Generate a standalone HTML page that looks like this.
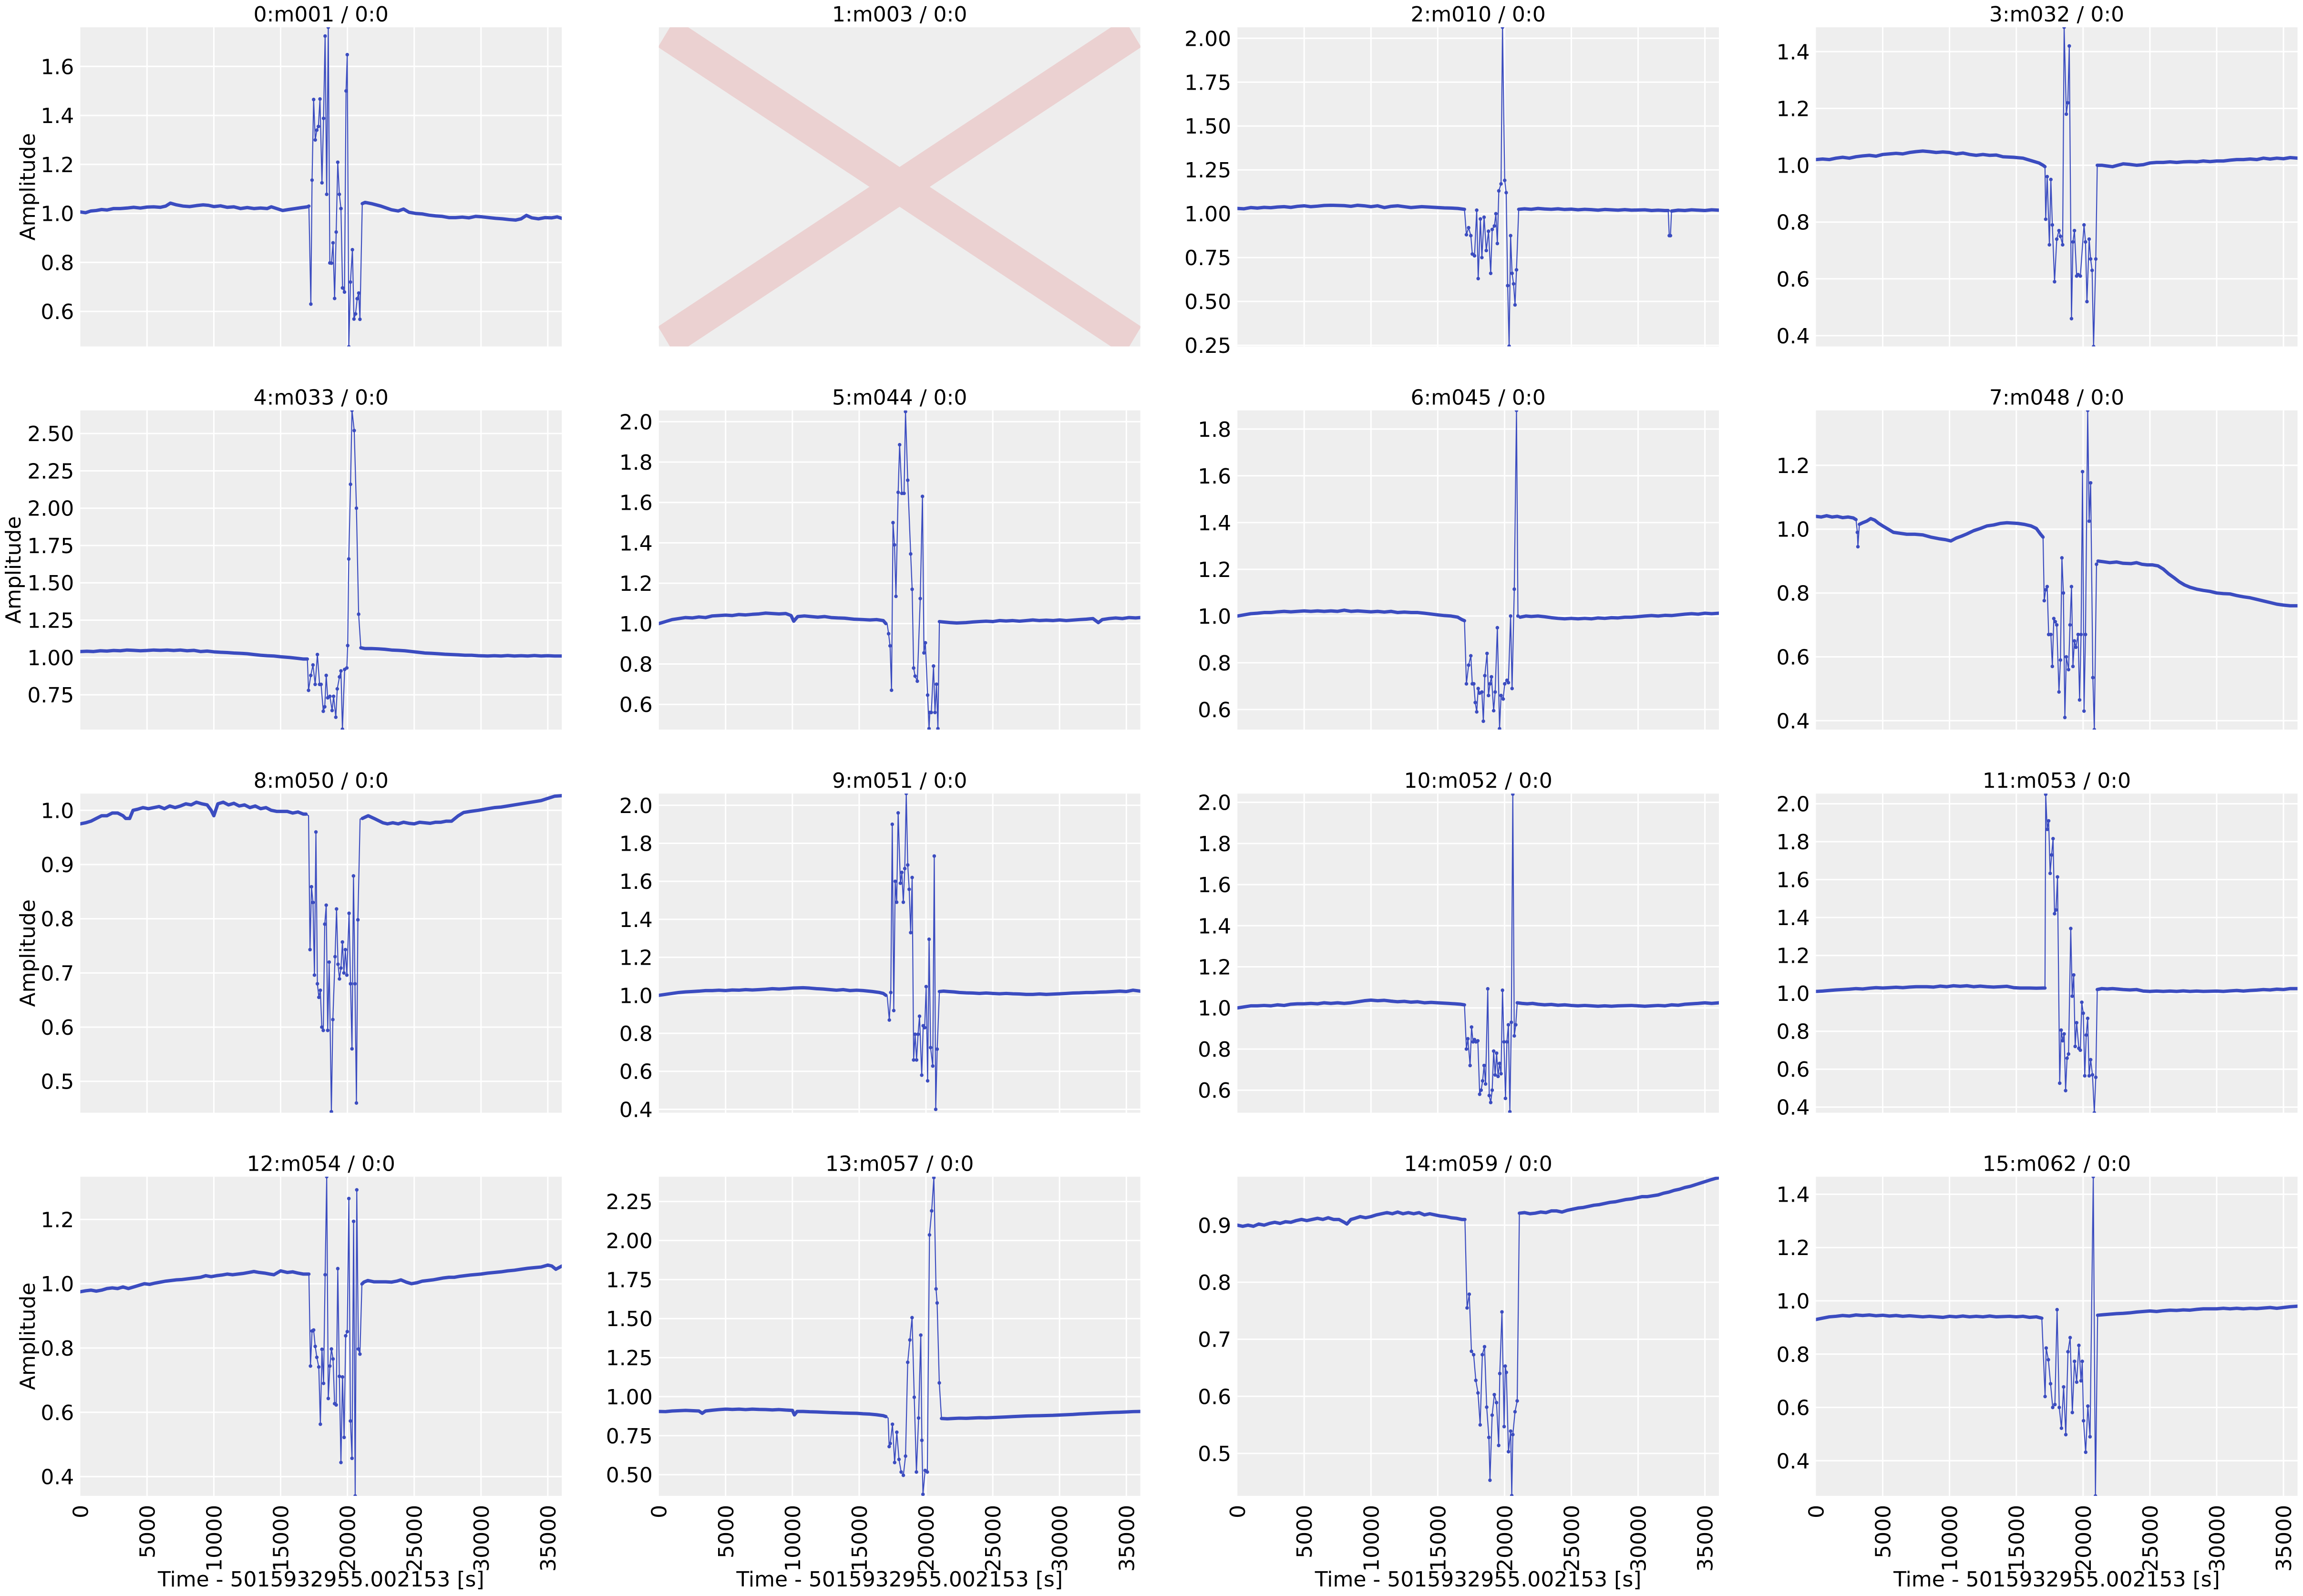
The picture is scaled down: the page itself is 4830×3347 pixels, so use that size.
<!DOCTYPE html>
<html><head><meta charset="utf-8">
<style>
html,body{margin:0;padding:0;background:#fff;}
svg{display:block}
text{font-family:"DejaVu Sans","Liberation Sans",sans-serif;font-size:44px;fill:#000}
.t{text-anchor:middle}
.y text{text-anchor:end}
.xt text{text-anchor:end}
.bg{fill:#eeeeee}
.g{stroke:#fff;stroke-width:3;fill:none}
.b{fill:none;stroke:#3b4cc0;stroke-width:7;stroke-linejoin:round;stroke-linecap:round}
.l{fill:none;stroke:#3b4cc0;stroke-width:2.2;stroke-linejoin:round}
.d{fill:none;stroke:#3b4cc0;stroke-width:7.5;stroke-linecap:round}
</style></head><body>
<svg width="4830" height="3347" viewBox="0 0 4830 3347" xmlns="http://www.w3.org/2000/svg">
<defs>
<path id="vg" d="M140.08 0V669.5M280.16 0V669.5M420.24 0V669.5M560.32 0V669.5M700.4 0V669.5M840.48 0V669.5M980.56 0V669.5"/>
</defs>
<rect width="4830" height="3347" fill="#fff"/>

<!-- Panel 0 -->
<g transform="translate(168.3,57.1)">
<text class="t" x="505" y="-12">0:m001 / 0:0</text>
<text class="t" transform="translate(-95.3,334.75) rotate(-90)">Amplitude</text>
<g class="y"><text x="-13" y="98.2">1.6</text><text x="-13" y="201">1.4</text><text x="-13" y="303.7">1.2</text><text x="-13" y="406.5">1.0</text><text x="-13" y="509.2">0.8</text><text x="-13" y="612">0.6</text></g>
<svg width="1010" height="669.5"><rect class="bg" width="1010" height="669.5"/><use href="#vg" class="g"/>
<path class="g" d="M0 82.2H1010M0 185H1010M0 287.7H1010M0 390.5H1010M0 493.2H1010M0 596H1010"/>
<svg width="1010" height="669.5" viewBox="0 -1.760 36050 1.303" preserveAspectRatio="none"><g transform="scale(1,-1)">
<path class="b" vector-effect="non-scaling-stroke" d="M0 1.006L400 1.003 800 1.01 1200 1.012 1600 1.016 2000 1.014 2500 1.02 3000 1.02 3500 1.022 4000 1.025 4500 1.022 5000 1.026 5500 1.027 6000 1.025 6400 1.03 6750 1.042 7200 1.035 7700 1.03 8200 1.028 8700 1.032 9200 1.035 9600 1.033 10000 1.028 10500 1.031 11000 1.025 11500 1.027 12000 1.02 12500 1.024 13000 1.02 13500 1.022 14000 1.02 14300 1.027 15150 1.012 15600 1.016 16100 1.02 16600 1.024 17000 1.027 17116 1.03"/>
<path class="b" vector-effect="non-scaling-stroke" d="M21112 1.04L21319 1.045 21800 1.04 22500 1.03 23300 1.015 23800 1.01 24200 1.018 24600 1.005 25100 1 25600 0.998 26100 0.993 26600 0.99 27100 0.988 27600 0.983 28100 0.983 28600 0.985 29100 0.982 29600 0.988 30100 0.986 30600 0.983 31100 0.98 31600 0.978 32100 0.975 32600 0.973 33000 0.978 33400 0.992 33800 0.982 34300 0.978 34800 0.983 35300 0.982 35700 0.986 36050 0.98"/>
<path class="l" vector-effect="non-scaling-stroke" d="M17116 1.03L17263 0.63 17353 1.136 17471 1.465 17591 1.3 17709 1.34 17827 1.355 17945 1.467 18094 1.125 18213 1.388 18330 1.724 18448 1.078 18566 1.76 18684 0.798 18805 0.797 18923 0.88 19041 0.653 19159 0.924 19277 1.209 19395 1.078 19516 1.02 19634 0.696 19780 0.679 19898 1.5 19987 1.648 20105 0.456 20227 0.72 20373 0.852 20491 0.569 20609 0.59 20730 0.652 20848 0.675 20937 0.568 21112 1.04"/>
<path class="d" vector-effect="non-scaling-stroke" d="M17263 .63h0M17353 1.136h0M17471 1.465h0M17591 1.3h0M17709 1.34h0M17827 1.355h0M17945 1.467h0M18094 1.125h0M18213 1.388h0M18330 1.724h0M18448 1.078h0M18566 1.76h0M18684 .798h0M18805 .797h0M18923 .88h0M19041 .653h0M19159 .924h0M19277 1.209h0M19395 1.078h0M19516 1.02h0M19634 .696h0M19780 .679h0M19898 1.5h0M19987 1.648h0M20105 .456h0M20227 .72h0M20373 .852h0M20491 .569h0M20609 .59h0M20730 .652h0M20848 .675h0M20937 .568h0"/>
</g></svg></svg>
</g>

<!-- Panel 1 -->
<g transform="translate(1381.7,57.1)">
<text class="t" x="505" y="-12">1:m003 / 0:0</text>
<svg width="1010" height="669.5"><rect class="bg" width="1010" height="669.5"/>
<polygon fill="#ebd1d1" points="-1.7,41.7 23.3,0 61.6,0 1011.7,627.8 986.7,669.5 948.4,669.5"/>
<polygon fill="#ebd1d1" points="1011.7,41.7 986.7,0 948.4,0 -1.7,627.8 23.3,669.5 61.6,669.5"/>
</svg>
</g>

<!-- Panel 2 -->
<g transform="translate(2595.1,57.1)">
<text class="t" x="505" y="-12">2:m010 / 0:0</text>
<g class="y"><text x="-13" y="39.2">2.00</text><text x="-13" y="131.2">1.75</text><text x="-13" y="223.1">1.50</text><text x="-13" y="315.1">1.25</text><text x="-13" y="407.1">1.00</text><text x="-13" y="499">0.75</text><text x="-13" y="591">0.50</text><text x="-13" y="683">0.25</text></g>
<svg width="1010" height="669.5"><rect class="bg" width="1010" height="669.5"/><use href="#vg" class="g"/>
<path class="g" d="M0 23.2H1010M0 115.2H1010M0 207.1H1010M0 299.1H1010M0 391.1H1010M0 483H1010M0 575H1010M0 667H1010"/>
<svg width="1010" height="669.5" viewBox="0 -2.063 36050 1.82" preserveAspectRatio="none"><g transform="scale(1,-1)">
<path class="b" vector-effect="non-scaling-stroke" d="M0 1.03L500 1.028 1000 1.035 1500 1.032 2000 1.036 2500 1.034 3000 1.038 3500 1.04 4000 1.036 4500 1.042 5000 1.045 5500 1.04 6000 1.043 6500 1.047 7000 1.048 8000 1.046 8500 1.042 9000 1.048 9500 1.045 10000 1.04 10500 1.045 11000 1.035 11500 1.042 12000 1.045 12500 1.04 13000 1.035 13800 1.04 14300 1.038 15000 1.035 15500 1.033 16000 1.032 16500 1.03 17000 1.025"/>
<path class="b" vector-effect="non-scaling-stroke" d="M21059 1.025L21500 1.028 22000 1.025 22500 1.03 23000 1.027 23500 1.025 24000 1.028 24500 1.024 25000 1.026 25500 1.022 26000 1.025 26500 1.023 27000 1.02 27500 1.024 28000 1.022 28500 1.02 29000 1.023 29500 1.02 30500 1.022 31000 1.018 31500 1.02 32000 1.018 32250 1.018"/>
<path class="b" vector-effect="non-scaling-stroke" d="M32500 1.015L33000 1.02 33500 1.018 34000 1.022 34500 1.02 35000 1.018 35500 1.022 36050 1.02"/>
<path class="l" vector-effect="non-scaling-stroke" d="M17000 1.025L17145 0.88 17311 0.92 17476 0.875 17586 0.77 17752 0.76 17917 1.02 18027 0.63 18193 0.97 18303 0.75 18468 0.98 18634 0.79 18799 0.9 18964 0.66 19075 0.91 19240 0.93 19351 1 19461 0.83 19571 1.13 19737 1.17 19847 2.063 20012 1.19 20122 1.12 20233 0.59 20343 0.245 20453 0.875 20563 0.66 20674 0.6 20784 0.48 20894 0.68 21059 1.025M32250 1.018L32330 0.875 32420 0.875 32500 1.015"/>
<path class="d" vector-effect="non-scaling-stroke" d="M17145 .88h0M17311 .92h0M17476 .875h0M17586 .77h0M17752 .76h0M17917 1.02h0M18027 .63h0M18193 .97h0M18303 .75h0M18468 .98h0M18634 .79h0M18799 .9h0M18964 .66h0M19075 .91h0M19240 .93h0M19351 1h0M19461 .83h0M19571 1.13h0M19737 1.17h0M19847 2.063h0M20012 1.19h0M20122 1.12h0M20233 .59h0M20343 .245h0M20453 .875h0M20563 .66h0M20674 .6h0M20784 .48h0M20894 .68h0M32330 .875h0M32420 .875h0"/>
</g></svg></svg>
</g>

<!-- Panel 3 -->
<g transform="translate(3808.5,57.1)">
<text class="t" x="505" y="-12">3:m032 / 0:0</text>
<g class="y"><text x="-13" y="67.2">1.4</text><text x="-13" y="186.3">1.2</text><text x="-13" y="305.5">1.0</text><text x="-13" y="424.6">0.8</text><text x="-13" y="543.7">0.6</text><text x="-13" y="662.8">0.4</text></g>
<svg width="1010" height="669.5"><rect class="bg" width="1010" height="669.5"/><use href="#vg" class="g"/>
<path class="g" d="M0 51.2H1010M0 170.3H1010M0 289.5H1010M0 408.6H1010M0 527.7H1010M0 646.8H1010"/>
<svg width="1010" height="669.5" viewBox="0 -1.486 36050 1.124" preserveAspectRatio="none"><g transform="scale(1,-1)">
<path class="b" vector-effect="non-scaling-stroke" d="M0 1.02L500 1.022 1000 1.02 1500 1.025 2000 1.028 2500 1.025 3000 1.03 3500 1.033 4000 1.035 4500 1.032 5000 1.038 5500 1.04 6000 1.042 6500 1.04 7000 1.045 7500 1.048 8000 1.05 8500 1.048 9000 1.045 9500 1.047 10000 1.045 10500 1.04 11000 1.043 11500 1.038 12000 1.035 12500 1.038 13000 1.035 13500 1.036 14000 1.03 14800 1.028 15500 1.025 16200 1.015 16700 1.008 17000 1 17145 0.995"/>
<path class="b" vector-effect="non-scaling-stroke" d="M21059 1L21400 1 21700 0.998 22200 0.995 23000 1.005 23500 1.003 24000 1 24500 1.002 25000 1.008 25500 1.01 26000 1.01 26500 1.012 27000 1.01 27500 1.012 28000 1.013 28500 1.012 29000 1.015 29500 1.013 30000 1.015 30500 1.015 31000 1.018 31500 1.02 32000 1.02 32500 1.022 33000 1.02 33500 1.025 34000 1.022 34500 1.025 35000 1.023 35500 1.027 36050 1.025"/>
<path class="l" vector-effect="non-scaling-stroke" d="M17145 0.995L17200 0.81 17310 0.96 17476 0.72 17586 0.95 17696 0.79 17862 0.59 18027 0.74 18193 0.77 18303 0.75 18468 0.72 18579 1.486 18744 1.18 18854 1.22 18965 1.42 19130 0.46 19240 0.73 19351 0.77 19516 0.61 19626 0.615 19792 0.61 20068 0.79 20178 0.73 20288 0.52 20453 0.74 20564 0.67 20674 0.63 20784 0.362 20949 0.67 21059 1"/>
<path class="d" vector-effect="non-scaling-stroke" d="M17200 .81h0M17310 .96h0M17476 .72h0M17586 .95h0M17696 .79h0M17862 .59h0M18027 .74h0M18193 .77h0M18303 .75h0M18468 .72h0M18579 1.486h0M18744 1.18h0M18854 1.22h0M18965 1.42h0M19130 .46h0M19240 .73h0M19351 .77h0M19516 .61h0M19626 .615h0M19792 .61h0M20068 .79h0M20178 .73h0M20288 .52h0M20453 .74h0M20564 .67h0M20674 .63h0M20784 .362h0M20949 .67h0"/>
</g></svg></svg>
</g>

<!-- Panel 4 -->
<g transform="translate(168.3,860.6)">
<text class="t" x="505" y="-12">4:m033 / 0:0</text>
<text class="t" transform="translate(-125.3,334.75) rotate(-90)">Amplitude</text>
<g class="y"><text x="-13" y="64.5">2.50</text><text x="-13" y="142.8">2.25</text><text x="-13" y="221.1">2.00</text><text x="-13" y="299.4">1.75</text><text x="-13" y="377.6">1.50</text><text x="-13" y="455.9">1.25</text><text x="-13" y="534.2">1.00</text><text x="-13" y="612.5">0.75</text></g>
<svg width="1010" height="669.5"><rect class="bg" width="1010" height="669.5"/><use href="#vg" class="g"/>
<path class="g" d="M0 48.5H1010M0 126.8H1010M0 205.1H1010M0 283.4H1010M0 361.6H1010M0 439.9H1010M0 518.2H1010M0 596.5H1010"/>
<svg width="1010" height="669.5" viewBox="0 -2.655 36050 2.138" preserveAspectRatio="none"><g transform="scale(1,-1)">
<path class="b" vector-effect="non-scaling-stroke" d="M0 1.04L500 1.042 1000 1.04 1500 1.045 2000 1.043 2500 1.047 3000 1.045 3500 1.05 4000 1.048 4500 1.045 5000 1.047 5500 1.05 6000 1.048 6500 1.05 7000 1.047 7500 1.05 8000 1.045 8500 1.048 9000 1.04 9500 1.043 10000 1.038 10500 1.035 11000 1.033 11500 1.03 12000 1.028 12500 1.025 13000 1.02 13500 1.015 14000 1.012 14500 1.01 15000 1.005 15700 1 16200 0.995 16700 0.99 17000 0.99"/>
<path class="b" vector-effect="non-scaling-stroke" d="M21004 1.065L21300 1.06 21800 1.06 22300 1.058 22800 1.055 23300 1.05 23800 1.048 24300 1.045 24800 1.04 25300 1.035 25800 1.03 26300 1.028 26800 1.025 27300 1.022 27800 1.02 28300 1.018 28800 1.015 29300 1.015 29800 1.012 30500 1.01 31000 1.012 31500 1.01 32000 1.013 32500 1.01 33000 1.012 33500 1.01 34000 1.013 34500 1.01 35000 1.012 35500 1.01 36050 1.01"/>
<path class="l" vector-effect="non-scaling-stroke" d="M17000 0.99L17090 0.78 17256 0.88 17421 0.95 17586 0.82 17752 1.02 17917 0.82 18027 0.82 18193 0.64 18303 0.67 18413 0.88 18524 0.73 18689 0.74 18854 0.645 18965 0.74 19130 0.6 19240 0.79 19406 0.87 19516 0.91 19626 0.52 19792 0.92 19957 0.93 20020 1.08 20100 1.66 20233 2.16 20343 2.655 20508 2.52 20674 2 20839 1.29 21004 1.065"/>
<path class="d" vector-effect="non-scaling-stroke" d="M17090 .78h0M17256 .88h0M17421 .95h0M17586 .82h0M17752 1.02h0M17917 .82h0M18027 .82h0M18193 .64h0M18303 .67h0M18413 .88h0M18524 .73h0M18689 .74h0M18854 .645h0M18965 .74h0M19130 .6h0M19240 .79h0M19406 .87h0M19516 .91h0M19626 .52h0M19792 .92h0M19957 .93h0M20020 1.08h0M20100 1.66h0M20233 2.16h0M20343 2.655h0M20508 2.52h0M20674 2h0M20839 1.29h0"/>
</g></svg></svg>
</g>

<!-- Panel 5 -->
<g transform="translate(1381.7,860.6)">
<text class="t" x="505" y="-12">5:m044 / 0:0</text>
<g class="y"><text x="-13" y="39.7">2.0</text><text x="-13" y="124.4">1.8</text><text x="-13" y="209.1">1.6</text><text x="-13" y="293.8">1.4</text><text x="-13" y="378.5">1.2</text><text x="-13" y="463.2">1.0</text><text x="-13" y="547.9">0.8</text><text x="-13" y="632.6">0.6</text></g>
<svg width="1010" height="669.5"><rect class="bg" width="1010" height="669.5"/><use href="#vg" class="g"/>
<path class="g" d="M0 23.7H1010M0 108.4H1010M0 193.1H1010M0 277.8H1010M0 362.5H1010M0 447.2H1010M0 531.9H1010M0 616.6H1010"/>
<svg width="1010" height="669.5" viewBox="0 -2.056 36050 1.581" preserveAspectRatio="none"><g transform="scale(1,-1)">
<path class="b" vector-effect="non-scaling-stroke" d="M0 1L500 1.01 1000 1.02 1500 1.025 2000 1.03 2500 1.028 3000 1.033 3500 1.03 4000 1.038 4500 1.04 5000 1.042 5500 1.04 6000 1.045 6500 1.043 7000 1.046 7500 1.048 8000 1.052 8500 1.05 9000 1.048 9500 1.05 9900 1.04 10100 1.012 10400 1.035 10900 1.038 11400 1.035 11900 1.032 12400 1.035 12900 1.03 13400 1.028 13900 1.027 14600 1.022 15300 1.02 15800 1.018 16300 1.02 16800 1.015 17000 1"/>
<path class="b" vector-effect="non-scaling-stroke" d="M21004 1.01L21300 1.008 21800 1.005 22300 1.003 23000 1.005 23500 1.008 24000 1.01 24500 1.012 25000 1.01 25500 1.015 26000 1.013 26500 1.015 27000 1.012 27500 1.015 28000 1.018 28500 1.015 29000 1.017 29500 1.015 30000 1.018 30500 1.015 31500 1.02 32000 1.022 32500 1.025 32900 1.005 33200 1.02 33700 1.025 34200 1.028 34700 1.025 35200 1.03 35700 1.028 36050 1.03"/>
<path class="l" vector-effect="non-scaling-stroke" d="M17000 1L17090 1 17201 0.95 17311 0.89 17421 0.67 17532 1.5 17642 1.39 17752 1.135 17917 1.65 18027 1.886 18193 1.645 18358 1.645 18468 2.05 18634 1.71 18854 1.345 18965 1.17 19075 0.78 19185 0.74 19351 0.715 19571 1.124 19736 1.63 19847 0.855 19957 0.905 20122 0.646 20230 0.48 20288 0.56 20398 0.56 20564 0.79 20674 0.56 20784 0.7 20894 0.48 21004 1.01"/>
<path class="d" vector-effect="non-scaling-stroke" d="M17201 .95h0M17311 .89h0M17421 .67h0M17532 1.5h0M17642 1.39h0M17752 1.135h0M17917 1.65h0M18027 1.886h0M18193 1.645h0M18358 1.645h0M18468 2.05h0M18634 1.71h0M18854 1.345h0M18965 1.17h0M19075 .78h0M19185 .74h0M19351 .715h0M19571 1.124h0M19736 1.63h0M19847 .855h0M19957 .905h0M20122 .646h0M20230 .48h0M20288 .56h0M20398 .56h0M20564 .79h0M20674 .56h0M20784 .7h0M20894 .48h0"/>
</g></svg></svg>
</g>

<!-- Panel 6 -->
<g transform="translate(2595.1,860.6)">
<text class="t" x="505" y="-12">6:m045 / 0:0</text>
<g class="y"><text x="-13" y="55.2">1.8</text><text x="-13" y="153.2">1.6</text><text x="-13" y="251.3">1.4</text><text x="-13" y="349.3">1.2</text><text x="-13" y="447.3">1.0</text><text x="-13" y="545.3">0.8</text><text x="-13" y="643.3">0.6</text></g>
<svg width="1010" height="669.5"><rect class="bg" width="1010" height="669.5"/><use href="#vg" class="g"/>
<path class="g" d="M0 39.2H1010M0 137.2H1010M0 235.3H1010M0 333.3H1010M0 431.3H1010M0 529.3H1010M0 627.3H1010"/>
<svg width="1010" height="669.5" viewBox="0 -1.880 36050 1.366" preserveAspectRatio="none"><g transform="scale(1,-1)">
<path class="b" vector-effect="non-scaling-stroke" d="M0 1L500 1.005 1000 1.01 1500 1.012 2000 1.015 2500 1.015 3000 1.018 3500 1.02 4000 1.018 4500 1.02 5000 1.022 5500 1.02 6000 1.022 6500 1.02 7000 1.022 7500 1.02 8000 1.025 8500 1.02 9000 1.022 9500 1.02 10000 1.018 10500 1.02 11000 1.017 11500 1.02 12000 1.015 12500 1.017 13000 1.015 13500 1.015 14000 1.012 15000 1.005 15500 1.002 16000 1 16500 0.995 16800 0.985 17000 0.98"/>
<path class="b" vector-effect="non-scaling-stroke" d="M21170 0.995L21600 1 22000 0.998 22500 1 23000 0.997 23500 0.993 24000 0.99 24500 0.988 25000 0.99 25500 0.988 26000 0.99 26500 0.988 27000 0.992 27500 0.99 28000 0.993 28500 0.992 29000 0.995 29500 0.995 30500 1 31000 1.002 31500 1 32000 1.003 32500 1.002 33000 1.005 33500 1.008 34000 1.01 34500 1.008 35000 1.012 35500 1.01 36050 1.012"/>
<path class="l" vector-effect="non-scaling-stroke" d="M17000 0.98L17145 0.71 17311 0.79 17476 0.83 17586 0.71 17697 0.71 17807 0.63 17917 0.59 18028 0.69 18138 0.67 18303 0.675 18413 0.55 18524 0.745 18689 0.84 18799 0.66 18909 0.71 19020 0.74 19185 0.595 19296 0.675 19461 0.95 19626 0.518 19737 0.66 19902 0.645 20012 0.71 20178 0.725 20288 0.715 20453 1 20564 0.69 20729 1.115 20894 1.88 21004 1 21170 0.995"/>
<path class="d" vector-effect="non-scaling-stroke" d="M17145 .71h0M17311 .79h0M17476 .83h0M17586 .71h0M17697 .71h0M17807 .63h0M17917 .59h0M18028 .69h0M18138 .67h0M18303 .675h0M18413 .55h0M18524 .745h0M18689 .84h0M18799 .66h0M18909 .71h0M19020 .74h0M19185 .595h0M19296 .675h0M19461 .95h0M19626 .518h0M19737 .66h0M19902 .645h0M20012 .71h0M20178 .725h0M20288 .715h0M20453 1h0M20564 .69h0M20729 1.115h0M20894 1.88h0M21004 1h0"/>
</g></svg></svg>
</g>

<!-- Panel 7 -->
<g transform="translate(3808.5,860.6)">
<text class="t" x="505" y="-12">7:m048 / 0:0</text>
<g class="y"><text x="-13" y="131.2">1.2</text><text x="-13" y="265.1">1.0</text><text x="-13" y="399">0.8</text><text x="-13" y="532.9">0.6</text><text x="-13" y="666.8">0.4</text></g>
<svg width="1010" height="669.5"><rect class="bg" width="1010" height="669.5"/><use href="#vg" class="g"/>
<path class="g" d="M0 115.2H1010M0 249.1H1010M0 383H1010M0 516.9H1010M0 650.8H1010"/>
<svg width="1010" height="669.5" viewBox="0 -1.372 36050 1.0" preserveAspectRatio="none"><g transform="scale(1,-1)">
<path class="b" vector-effect="non-scaling-stroke" d="M0 1.04L400 1.038 800 1.042 1200 1.038 1600 1.04 2000 1.036 2400 1.038 2800 1.035 3000 1.03"/>
<path class="b" vector-effect="non-scaling-stroke" d="M3250 1.015L3500 1.02 3800 1.025 4100 1.033 4400 1.028 4700 1.018 5000 1.01 5400 1 5800 0.99 6300 0.987 6800 0.984 7400 0.984 8000 0.982 8600 0.975 9200 0.97 9700 0.967 10100 0.963 10500 0.972 10900 0.978 11300 0.985 11800 0.995 12300 1.002 12800 1.01 13300 1.013 13800 1.018 14300 1.02 15100 1.018 15600 1.015 16100 1.01 16500 1.002 16800 0.985 17000 0.975"/>
<path class="b" vector-effect="non-scaling-stroke" d="M21114 0.9L21500 0.898 22000 0.895 22500 0.897 23000 0.893 23600 0.892 24000 0.895 24400 0.89 24800 0.888 25200 0.888 25600 0.885 26000 0.875 26400 0.86 26800 0.848 27200 0.835 27600 0.825 28000 0.818 28500 0.812 29000 0.808 29500 0.805 30000 0.8 30500 0.798 31000 0.797 31500 0.792 32000 0.788 32500 0.785 33000 0.78 33500 0.775 34000 0.77 34500 0.765 35000 0.762 35500 0.76 36050 0.76"/>
<path class="l" vector-effect="non-scaling-stroke" d="M3000 1.03L3100 0.99 3142 0.945 3250 1.015M17000 0.975L17090 0.776 17201 0.81 17311 0.82 17421 0.67 17586 0.67 17697 0.57 17807 0.72 17917 0.71 18028 0.7 18193 0.49 18303 0.59 18413 0.91 18524 0.8 18634 0.41 18744 0.6 18910 0.56 19020 0.7 19130 0.82 19240 0.57 19351 0.65 19461 0.63 19626 0.67 19737 0.465 19847 0.67 19957 1.18 20068 0.43 20178 0.67 20343 1.372 20453 1.025 20564 1.145 20729 0.535 20839 0.372 21004 0.89 21114 0.9"/>
<path class="d" vector-effect="non-scaling-stroke" d="M3100 .99h0M3142 .945h0M17090 .776h0M17201 .81h0M17311 .82h0M17421 .67h0M17586 .67h0M17697 .57h0M17807 .72h0M17917 .71h0M18028 .7h0M18193 .49h0M18303 .59h0M18413 .91h0M18524 .8h0M18634 .41h0M18744 .6h0M18910 .56h0M19020 .7h0M19130 .82h0M19240 .57h0M19351 .65h0M19461 .63h0M19626 .67h0M19737 .465h0M19847 .67h0M19957 1.18h0M20068 .43h0M20178 .67h0M20343 1.372h0M20453 1.025h0M20564 1.145h0M20729 .535h0M20839 .372h0M21004 .89h0"/>
</g></svg></svg>
</g>

<!-- Panel 8 -->
<g transform="translate(168.3,1664.1)">
<text class="t" x="505" y="-12">8:m050 / 0:0</text>
<text class="t" transform="translate(-95.3,334.75) rotate(-90)">Amplitude</text>
<g class="y"><text x="-13" y="51.2">1.0</text><text x="-13" y="164.9">0.9</text><text x="-13" y="278.6">0.8</text><text x="-13" y="392.3">0.7</text><text x="-13" y="505.9">0.6</text><text x="-13" y="619.6">0.5</text></g>
<svg width="1010" height="669.5"><rect class="bg" width="1010" height="669.5"/><use href="#vg" class="g"/>
<path class="g" d="M0 35.2H1010M0 148.9H1010M0 262.6H1010M0 376.3H1010M0 489.9H1010M0 603.6H1010"/>
<svg width="1010" height="669.5" viewBox="0 -1.031 36050 0.589" preserveAspectRatio="none"><g transform="scale(1,-1)">
<path class="b" vector-effect="non-scaling-stroke" d="M0 0.975L400 0.977 800 0.98 1200 0.985 1600 0.99 2000 0.99 2400 0.995 2800 0.995 3200 0.99 3400 0.985 3700 0.985 3950 1 4300 1.002 4700 1.005 5100 1.003 5500 1.005 5900 1.007 6300 1.003 6700 1.008 7100 1.005 7500 1.008 7900 1.012 8300 1.01 8700 1.015 9100 1.012 9500 1.01 9800 1 10000 0.99 10300 1.012 10700 1.015 11100 1.01 11500 1.013 11900 1.008 12300 1.01 12700 1.005 13100 1.008 13500 1.003 13900 1.005 14300 1 14700 0.998 15500 0.998 15900 0.995 16300 0.997 16700 0.993 16900 0.993"/>
<path class="b" vector-effect="non-scaling-stroke" d="M21115 0.985L21556 0.99 22000 0.985 22658 0.977 23000 0.975 23400 0.977 23800 0.975 24200 0.978 24600 0.976 25000 0.975 25400 0.978 25800 0.977 26200 0.976 26600 0.978 27000 0.978 27400 0.98 27800 0.98 28300 0.99 28700 0.996 29200 0.998 29800 1 30500 1.003 31000 1.005 31500 1.006 32000 1.008 32500 1.01 33000 1.012 33500 1.014 34000 1.016 34500 1.018 35000 1.022 35500 1.026 36050 1.027"/>
<path class="l" vector-effect="non-scaling-stroke" d="M16900 0.993L17090 0.99 17200 0.743 17311 0.859 17421 0.83 17531 0.696 17642 0.96 17752 0.68 17862 0.655 17972 0.668 18083 0.6 18193 0.594 18303 0.79 18413 0.825 18524 0.594 18634 0.72 18799 0.444 18909 0.614 19075 0.73 19185 0.818 19296 0.716 19406 0.689 19516 0.709 19626 0.757 19737 0.7 19847 0.743 19957 0.696 20122 0.81 20233 0.68 20343 0.56 20453 0.879 20564 0.68 20674 0.46 20784 0.798 20949 0.984 21115 0.985"/>
<path class="d" vector-effect="non-scaling-stroke" d="M17200 .743h0M17311 .859h0M17421 .83h0M17531 .696h0M17642 .96h0M17752 .68h0M17862 .655h0M17972 .668h0M18083 .6h0M18193 .594h0M18303 .79h0M18413 .825h0M18524 .594h0M18634 .72h0M18799 .444h0M18909 .614h0M19075 .73h0M19185 .818h0M19296 .716h0M19406 .689h0M19516 .709h0M19626 .757h0M19737 .7h0M19847 .743h0M19957 .696h0M20122 .81h0M20233 .68h0M20343 .56h0M20453 .879h0M20564 .68h0M20674 .46h0M20784 .798h0"/>
</g></svg></svg>
</g>

<!-- Panel 9 -->
<g transform="translate(1381.7,1664.1)">
<text class="t" x="505" y="-12">9:m051 / 0:0</text>
<g class="y"><text x="-13" y="40.7">2.0</text><text x="-13" y="120.4">1.8</text><text x="-13" y="200.1">1.6</text><text x="-13" y="279.8">1.4</text><text x="-13" y="359.5">1.2</text><text x="-13" y="439.2">1.0</text><text x="-13" y="518.9">0.8</text><text x="-13" y="598.6">0.6</text><text x="-13" y="678.3">0.4</text></g>
<svg width="1010" height="669.5"><rect class="bg" width="1010" height="669.5"/><use href="#vg" class="g"/>
<path class="g" d="M0 24.7H1010M0 104.4H1010M0 184.1H1010M0 263.8H1010M0 343.5H1010M0 423.2H1010M0 502.9H1010M0 582.6H1010M0 662.3H1010"/>
<svg width="1010" height="669.5" viewBox="0 -2.062 36050 1.68" preserveAspectRatio="none"><g transform="scale(1,-1)">
<path class="b" vector-effect="non-scaling-stroke" d="M0 1L500 1.005 1000 1.01 1500 1.015 2000 1.018 2500 1.02 3000 1.022 3500 1.025 4000 1.025 4500 1.027 5000 1.025 5500 1.028 6000 1.027 6500 1.03 7000 1.028 7500 1.03 8000 1.032 8500 1.035 9000 1.033 9500 1.035 10000 1.038 10800 1.04 11300 1.038 11800 1.035 12300 1.033 12800 1.03 13300 1.027 13800 1.03 14300 1.025 14800 1.027 15300 1.025 16000 1.02 16500 1.015 16800 1.01 17000 1"/>
<path class="b" vector-effect="non-scaling-stroke" d="M21004 1.02L21300 1.022 21700 1.02 22100 1.018 22500 1.015 23000 1.013 23500 1.012 24000 1.01 24500 1.012 25000 1.01 25500 1.008 26000 1.01 26500 1.008 27000 1.007 27500 1.005 28000 1.005 28500 1.007 29000 1.005 30000 1.008 30500 1.01 31000 1.012 31500 1.013 32000 1.015 32500 1.015 33000 1.017 33500 1.018 34000 1.02 34500 1.022 35000 1.02 35500 1.027 36050 1.022"/>
<path class="l" vector-effect="non-scaling-stroke" d="M17000 1L17090 1 17256 0.87 17366 1.015 17476 1.9 17587 0.92 17697 1.6 17807 1.49 17917 1.96 18083 1.59 18193 1.647 18303 1.49 18413 1.667 18524 2.062 18634 1.686 18744 1.558 18855 1.33 18965 1.62 19075 0.66 19185 0.795 19296 0.66 19406 0.795 19516 0.89 19682 0.58 19792 0.84 19902 0.83 20012 1.046 20122 0.55 20233 1.295 20343 0.725 20508 0.628 20619 1.733 20729 0.4 20839 0.717 21004 1.02"/>
<path class="d" vector-effect="non-scaling-stroke" d="M17256 .87h0M17366 1.015h0M17476 1.9h0M17587 .92h0M17697 1.6h0M17807 1.49h0M17917 1.96h0M18083 1.59h0M18193 1.647h0M18303 1.49h0M18413 1.667h0M18524 2.062h0M18634 1.686h0M18744 1.558h0M18855 1.33h0M18965 1.62h0M19075 .66h0M19185 .795h0M19296 .66h0M19406 .795h0M19516 .89h0M19682 .58h0M19792 .84h0M19902 .83h0M20012 1.046h0M20122 .55h0M20233 1.295h0M20343 .725h0M20508 .628h0M20619 1.733h0M20729 .4h0M20839 .717h0"/>
</g></svg></svg>
</g>

<!-- Panel 10 -->
<g transform="translate(2595.1,1664.1)">
<text class="t" x="505" y="-12">10:m052 / 0:0</text>
<g class="y"><text x="-13" y="34.5">2.0</text><text x="-13" y="120.8">1.8</text><text x="-13" y="207">1.6</text><text x="-13" y="293.2">1.4</text><text x="-13" y="379.4">1.2</text><text x="-13" y="465.6">1.0</text><text x="-13" y="551.9">0.8</text><text x="-13" y="638.1">0.6</text></g>
<svg width="1010" height="669.5"><rect class="bg" width="1010" height="669.5"/><use href="#vg" class="g"/>
<path class="g" d="M0 18.5H1010M0 104.8H1010M0 191H1010M0 277.2H1010M0 363.4H1010M0 449.6H1010M0 535.9H1010M0 622.1H1010"/>
<svg width="1010" height="669.5" viewBox="0 -2.043 36050 1.553" preserveAspectRatio="none"><g transform="scale(1,-1)">
<path class="b" vector-effect="non-scaling-stroke" d="M0 1L500 1.005 1000 1.01 1500 1.01 2000 1.012 2500 1.01 3000 1.015 3500 1.012 4000 1.018 4500 1.02 5000 1.02 5500 1.022 6000 1.02 6500 1.025 7000 1.022 7500 1.025 8000 1.022 8500 1.025 9000 1.03 9500 1.035 10000 1.038 10500 1.035 11000 1.037 11500 1.033 12000 1.03 12500 1.032 13000 1.028 13500 1.03 14000 1.025 14500 1.027 15000 1.025 15800 1.022 16300 1.02 16700 1.018 17000 1.015"/>
<path class="b" vector-effect="non-scaling-stroke" d="M20949 1.025L21300 1.022 21700 1.02 22100 1.022 22500 1.018 23000 1.015 23500 1.017 24000 1.013 24500 1.015 25000 1.012 25500 1.01 26000 1.012 26500 1.01 27000 1.008 27500 1.01 28000 1.008 28500 1.01 29500 1.012 30000 1.01 30500 1.008 31000 1.01 31500 1.012 32000 1.01 32500 1.015 33000 1.013 33500 1.018 34000 1.02 34500 1.022 35000 1.025 35500 1.022 36050 1.025"/>
<path class="l" vector-effect="non-scaling-stroke" d="M17000 1.015L17145 0.8 17256 0.85 17421 0.72 17531 0.907 17642 0.835 17752 0.846 17862 0.835 18000 0.84 18138 0.58 18248 0.6 18358 0.645 18469 0.72 18579 0.63 18744 1.093 18854 0.574 18964 0.54 19075 0.6 19185 0.79 19296 0.674 19406 0.78 19516 0.667 19626 0.73 19737 0.68 19847 1.086 19957 0.835 20067 0.56 20178 0.835 20288 0.918 20398 0.495 20508 0.93 20619 2.04 20729 0.864 20839 0.918 20949 1.025"/>
<path class="d" vector-effect="non-scaling-stroke" d="M17145 .8h0M17256 .85h0M17421 .72h0M17531 .907h0M17642 .835h0M17752 .846h0M17862 .835h0M18000 .84h0M18138 .58h0M18248 .6h0M18358 .645h0M18469 .72h0M18579 .63h0M18744 1.093h0M18854 .574h0M18964 .54h0M19075 .6h0M19185 .79h0M19296 .674h0M19406 .78h0M19516 .667h0M19626 .73h0M19737 .68h0M19847 1.086h0M19957 .835h0M20067 .56h0M20178 .835h0M20288 .918h0M20398 .495h0M20508 .93h0M20619 2.04h0M20729 .864h0M20839 .918h0"/>
</g></svg></svg>
</g>

<!-- Panel 11 -->
<g transform="translate(3808.5,1664.1)">
<text class="t" x="505" y="-12">11:m053 / 0:0</text>
<g class="y"><text x="-13" y="37.5">2.0</text><text x="-13" y="117">1.8</text><text x="-13" y="196.5">1.6</text><text x="-13" y="276">1.4</text><text x="-13" y="355.6">1.2</text><text x="-13" y="435.1">1.0</text><text x="-13" y="514.6">0.8</text><text x="-13" y="594.1">0.6</text><text x="-13" y="673.6">0.4</text></g>
<svg width="1010" height="669.5"><rect class="bg" width="1010" height="669.5"/><use href="#vg" class="g"/>
<path class="g" d="M0 21.5H1010M0 101H1010M0 180.5H1010M0 260H1010M0 339.6H1010M0 419.1H1010M0 498.6H1010M0 578.1H1010M0 657.6H1010"/>
<svg width="1010" height="669.5" viewBox="0 -2.054 36050 1.684" preserveAspectRatio="none"><g transform="scale(1,-1)">
<path class="b" vector-effect="non-scaling-stroke" d="M0 1.01L500 1.012 1000 1.015 1500 1.018 2000 1.02 2500 1.022 3000 1.025 3500 1.023 4000 1.027 4500 1.03 5000 1.028 5500 1.03 6000 1.032 6500 1.03 7000 1.033 7500 1.035 8300 1.035 8800 1.033 9300 1.038 9800 1.035 10300 1.04 10800 1.037 11300 1.04 11800 1.035 12300 1.038 12800 1.035 13300 1.033 13800 1.035 14300 1.037 14800 1.03 15300 1.028 16000 1.028 16500 1.027 17000 1.028 17145 1.028"/>
<path class="b" vector-effect="non-scaling-stroke" d="M21059 1.02L21400 1.025 21800 1.023 22200 1.025 23000 1.02 23500 1.018 24000 1.02 24500 1.012 25000 1.01 25500 1.012 26000 1.01 26500 1.012 27000 1.01 27500 1.013 28000 1.01 28500 1.012 29000 1.01 30000 1.012 30500 1.01 31000 1.013 31500 1.015 32000 1.012 32500 1.015 33000 1.017 33500 1.02 34000 1.018 34500 1.022 35000 1.02 35500 1.025 36050 1.025"/>
<path class="l" vector-effect="non-scaling-stroke" d="M17145 1.028L17200 2.05 17311 1.865 17421 1.91 17532 1.633 17642 1.73 17752 1.816 17862 1.42 17972 1.44 18083 1.614 18248 0.526 18358 0.806 18469 0.75 18579 0.786 18689 0.487 18799 0.658 18910 0.68 19075 1.342 19185 0.985 19296 1.097 19406 0.72 19516 0.845 19682 0.71 19792 0.7 19902 0.953 20012 0.895 20123 0.565 20233 0.78 20343 0.868 20453 0.565 20564 0.65 20700 0.57 20839 0.37 20949 0.557 21059 1.02"/>
<path class="d" vector-effect="non-scaling-stroke" d="M17200 2.05h0M17311 1.865h0M17421 1.91h0M17532 1.633h0M17642 1.73h0M17752 1.816h0M17862 1.42h0M17972 1.44h0M18083 1.614h0M18248 .526h0M18358 .806h0M18469 .75h0M18579 .786h0M18689 .487h0M18799 .658h0M18910 .68h0M19075 1.342h0M19185 .985h0M19296 1.097h0M19406 .72h0M19516 .845h0M19682 .71h0M19792 .7h0M19902 .953h0M20012 .895h0M20123 .565h0M20233 .78h0M20343 .868h0M20453 .565h0M20564 .65h0M20700 .57h0M20839 .37h0M20949 .557h0"/>
</g></svg></svg>
</g>

<!-- Panel 12 -->
<g transform="translate(168.3,2467.6)">
<text class="t" x="505" y="-12">12:m054 / 0:0</text>
<text class="t" transform="translate(-95.3,334.75) rotate(-90)">Amplitude</text>
<g class="y"><text x="-13" y="105.7">1.2</text><text x="-13" y="240.5">1.0</text><text x="-13" y="375.3">0.8</text><text x="-13" y="510.2">0.6</text><text x="-13" y="645">0.4</text></g>
<g class="xt"><text transform="translate(16,688.4) rotate(-90)">0</text><text transform="translate(156.08,688.4) rotate(-90)">5000</text><text transform="translate(296.16,688.4) rotate(-90)">10000</text><text transform="translate(436.24,688.4) rotate(-90)">15000</text><text transform="translate(576.32,688.4) rotate(-90)">20000</text><text transform="translate(716.4,688.4) rotate(-90)">25000</text><text transform="translate(856.48,688.4) rotate(-90)">30000</text><text transform="translate(996.56,688.4) rotate(-90)">35000</text></g>
<text class="t" x="505" y="859.4">Time - 5015932955.002153 [s]</text>
<svg width="1010" height="669.5"><rect class="bg" width="1010" height="669.5"/><use href="#vg" class="g"/>
<path class="g" d="M0 89.7H1010M0 224.5H1010M0 359.3H1010M0 494.2H1010M0 629H1010"/>
<svg width="1010" height="669.5" viewBox="0 -1.333 36050 0.993" preserveAspectRatio="none"><g transform="scale(1,-1)">
<path class="b" vector-effect="non-scaling-stroke" d="M0 0.975L400 0.978 800 0.98 1200 0.977 1600 0.98 2000 0.985 2400 0.987 2800 0.985 3200 0.99 3600 0.985 4000 0.99 4400 0.995 4800 1 5200 0.998 5600 1.002 6000 1.005 6400 1.008 6800 1.01 7200 1.012 7600 1.013 8000 1.015 8600 1.018 9000 1.02 9400 1.025 9800 1.022 10200 1.025 10600 1.027 11000 1.03 11400 1.028 11800 1.03 12200 1.032 12600 1.035 13000 1.038 13400 1.035 13800 1.033 14200 1.03 14500 1.028 15000 1.04 15500 1.035 15900 1.037 16300 1.033 16700 1.03 17116 1.03"/>
<path class="b" vector-effect="non-scaling-stroke" d="M21085 0.999L21233 1.005 21529 1.01 21974 1.006 22862 1.006 23300 1.005 23700 1.008 24000 1.012 24400 1.005 24800 1 25200 1.003 25600 1.008 26000 1.01 26400 1.012 26800 1.015 27200 1.018 27600 1.02 28000 1.02 28400 1.023 28800 1.025 29200 1.027 30000 1.03 30500 1.033 31000 1.035 31500 1.037 32000 1.04 32500 1.042 33000 1.045 33500 1.048 34000 1.05 34500 1.052 35000 1.058 35300 1.055 35600 1.045 36050 1.055"/>
<path class="l" vector-effect="non-scaling-stroke" d="M17116 1.03L17234 0.744 17353 0.853 17471 0.856 17590 0.805 17709 0.771 17857 0.741 17975 0.563 18094 0.796 18213 0.69 18331 1.028 18449 1.333 18567 0.643 18686 0.744 18804 0.797 18923 0.766 19041 0.627 19160 0.623 19278 1.047 19396 0.712 19515 0.444 19633 0.71 19752 0.522 19870 0.838 19989 0.851 20107 1.265 20226 0.573 20344 0.457 20463 1.194 20581 0.34 20700 1.292 20818 0.797 20937 0.781 21085 0.999"/>
<path class="d" vector-effect="non-scaling-stroke" d="M17234 .744h0M17353 .853h0M17471 .856h0M17590 .805h0M17709 .771h0M17857 .741h0M17975 .563h0M18094 .796h0M18213 .69h0M18331 1.028h0M18449 1.333h0M18567 .643h0M18686 .744h0M18804 .797h0M18923 .766h0M19041 .627h0M19160 .623h0M19278 1.047h0M19396 .712h0M19515 .444h0M19633 .71h0M19752 .522h0M19870 .838h0M19989 .851h0M20107 1.265h0M20226 .573h0M20344 .457h0M20463 1.194h0M20581 .34h0M20700 1.292h0M20818 .797h0M20937 .781h0"/>
</g></svg></svg>
</g>

<!-- Panel 13 -->
<g transform="translate(1381.7,2467.6)">
<text class="t" x="505" y="-12">13:m057 / 0:0</text>
<g class="y"><text x="-13" y="68.1">2.25</text><text x="-13" y="149.9">2.00</text><text x="-13" y="231.8">1.75</text><text x="-13" y="313.6">1.50</text><text x="-13" y="395.5">1.25</text><text x="-13" y="477.3">1.00</text><text x="-13" y="559.2">0.75</text><text x="-13" y="641">0.50</text></g>
<g class="xt"><text transform="translate(16,688.4) rotate(-90)">0</text><text transform="translate(156.08,688.4) rotate(-90)">5000</text><text transform="translate(296.16,688.4) rotate(-90)">10000</text><text transform="translate(436.24,688.4) rotate(-90)">15000</text><text transform="translate(576.32,688.4) rotate(-90)">20000</text><text transform="translate(716.4,688.4) rotate(-90)">25000</text><text transform="translate(856.48,688.4) rotate(-90)">30000</text><text transform="translate(996.56,688.4) rotate(-90)">35000</text></g>
<text class="t" x="505" y="859.4">Time - 5015932955.002153 [s]</text>
<svg width="1010" height="669.5"><rect class="bg" width="1010" height="669.5"/><use href="#vg" class="g"/>
<path class="g" d="M0 52.1H1010M0 133.9H1010M0 215.8H1010M0 297.6H1010M0 379.5H1010M0 461.3H1010M0 543.2H1010M0 625H1010"/>
<svg width="1010" height="669.5" viewBox="0 -2.409 36050 2.045" preserveAspectRatio="none"><g transform="scale(1,-1)">
<path class="b" vector-effect="non-scaling-stroke" d="M0 0.905L500 0.904 1000 0.908 1500 0.91 2000 0.912 2500 0.91 3000 0.908 3250 0.893 3500 0.908 4000 0.913 4500 0.917 5000 0.92 5500 0.918 6000 0.92 6500 0.917 7000 0.92 7500 0.918 8000 0.917 8500 0.915 9000 0.917 9500 0.914 10000 0.912 10150 0.883 10350 0.905 10800 0.905 11300 0.903 11800 0.902 12300 0.9 12800 0.898 13300 0.897 13800 0.895 14300 0.894 14800 0.893 15300 0.89 15800 0.888 16300 0.884 16800 0.878 17000 0.872"/>
<path class="b" vector-effect="non-scaling-stroke" d="M21160 0.86L21600 0.858 22000 0.86 22500 0.862 23000 0.861 23500 0.863 24000 0.865 24500 0.864 25000 0.866 25500 0.868 26000 0.87 26500 0.872 27000 0.874 27500 0.876 28000 0.877 28500 0.878 29000 0.879 29500 0.88 30000 0.882 30500 0.884 31000 0.886 31500 0.889 32000 0.891 32500 0.893 33000 0.895 33500 0.897 34000 0.899 34500 0.9 35000 0.902 35500 0.904 36050 0.905"/>
<path class="l" vector-effect="non-scaling-stroke" d="M17000 0.872L17164 0.863 17245 0.68 17327 0.7 17490 0.823 17653 0.578 17816 0.772 17979 0.598 18143 0.517 18306 0.496 18469 0.619 18632 1.22 18795 1.363 18958 1.506 19121 0.996 19284 0.517 19447 0.863 19610 1.394 19692 0.72 19773 0.374 19936 0.527 20100 0.517 20263 2.036 20426 2.19 20589 2.403 20752 1.69 20834 1.6 20997 1.088 21160 0.86"/>
<path class="d" vector-effect="non-scaling-stroke" d="M17245 .68h0M17327 .7h0M17490 .823h0M17653 .578h0M17816 .772h0M17979 .598h0M18143 .517h0M18306 .496h0M18469 .619h0M18632 1.22h0M18795 1.363h0M18958 1.506h0M19121 .996h0M19284 .517h0M19447 .863h0M19610 1.394h0M19692 .72h0M19773 .374h0M19936 .527h0M20100 .517h0M20263 2.036h0M20426 2.19h0M20589 2.403h0M20752 1.69h0M20834 1.6h0M20997 1.088h0"/>
</g></svg></svg>
</g>

<!-- Panel 14 -->
<g transform="translate(2595.1,2467.6)">
<text class="t" x="505" y="-12">14:m059 / 0:0</text>
<g class="y"><text x="-13" y="117.7">0.9</text><text x="-13" y="237.4">0.8</text><text x="-13" y="357">0.7</text><text x="-13" y="476.7">0.6</text><text x="-13" y="596.4">0.5</text></g>
<g class="xt"><text transform="translate(16,688.4) rotate(-90)">0</text><text transform="translate(156.08,688.4) rotate(-90)">5000</text><text transform="translate(296.16,688.4) rotate(-90)">10000</text><text transform="translate(436.24,688.4) rotate(-90)">15000</text><text transform="translate(576.32,688.4) rotate(-90)">20000</text><text transform="translate(716.4,688.4) rotate(-90)">25000</text><text transform="translate(856.48,688.4) rotate(-90)">30000</text><text transform="translate(996.56,688.4) rotate(-90)">35000</text></g>
<text class="t" x="505" y="859.4">Time - 5015932955.002153 [s]</text>
<svg width="1010" height="669.5"><rect class="bg" width="1010" height="669.5"/><use href="#vg" class="g"/>
<path class="g" d="M0 101.7H1010M0 221.4H1010M0 341H1010M0 460.7H1010M0 580.4H1010"/>
<svg width="1010" height="669.5" viewBox="0 -0.985 36050 0.5595" preserveAspectRatio="none"><g transform="scale(1,-1)">
<path class="b" vector-effect="non-scaling-stroke" d="M0 0.9L400 0.898 800 0.9 1200 0.898 1600 0.902 2000 0.9 2400 0.903 2800 0.905 3200 0.903 3600 0.906 4000 0.905 4400 0.908 4800 0.91 5200 0.908 5600 0.91 6000 0.912 6400 0.91 6800 0.913 7200 0.91 7600 0.91 8000 0.905 8200 0.902 8500 0.91 8800 0.912 9200 0.915 9600 0.913 10000 0.915 10400 0.918 10800 0.92 11200 0.922 11600 0.92 12000 0.923 12400 0.92 12800 0.922 13200 0.92 13600 0.922 14000 0.918 14400 0.92 14800 0.918 15200 0.916 15600 0.915 16000 0.913 16400 0.912 16800 0.91 17033 0.91"/>
<path class="b" vector-effect="non-scaling-stroke" d="M21110 0.921L21500 0.922 21900 0.92 22300 0.921 22700 0.923 23100 0.922 23500 0.925 23900 0.925 24300 0.923 24700 0.926 25100 0.928 25500 0.93 25900 0.931 26300 0.933 26700 0.935 27100 0.936 27500 0.938 27900 0.94 28300 0.941 28700 0.943 29100 0.945 29500 0.946 29900 0.948 30300 0.95 30700 0.95 31500 0.953 31900 0.956 32300 0.958 32700 0.961 33100 0.963 33500 0.966 33900 0.968 34300 0.971 34700 0.974 35100 0.977 35500 0.98 35800 0.982 36050 0.983"/>
<path class="l" vector-effect="non-scaling-stroke" d="M17033 0.91L17196 0.755 17359 0.779 17522 0.679 17686 0.673 17849 0.628 18012 0.606 18175 0.55 18338 0.673 18501 0.687 18664 0.581 18827 0.528 18909 0.453 19072 0.567 19235 0.603 19398 0.589 19561 0.514 19643 0.64 19806 0.748 19969 0.547 20051 0.653 20132 0.642 20295 0.503 20458 0.539 20540 0.426 20621 0.533 20784 0.573 20947 0.592 21110 0.921"/>
<path class="d" vector-effect="non-scaling-stroke" d="M17196 .755h0M17359 .779h0M17522 .679h0M17686 .673h0M17849 .628h0M18012 .606h0M18175 .55h0M18338 .673h0M18501 .687h0M18664 .581h0M18827 .528h0M18909 .453h0M19072 .567h0M19235 .603h0M19398 .589h0M19561 .514h0M19643 .64h0M19806 .748h0M19969 .547h0M20051 .653h0M20132 .642h0M20295 .503h0M20458 .539h0M20540 .426h0M20621 .533h0M20784 .573h0M20947 .592h0"/>
</g></svg></svg>
</g>

<!-- Panel 15 -->
<g transform="translate(3808.5,2467.6)">
<text class="t" x="505" y="-12">15:m062 / 0:0</text>
<g class="y"><text x="-13" y="52.9">1.4</text><text x="-13" y="164.6">1.2</text><text x="-13" y="276.4">1.0</text><text x="-13" y="388.2">0.8</text><text x="-13" y="499.9">0.6</text><text x="-13" y="611.7">0.4</text></g>
<g class="xt"><text transform="translate(16,688.4) rotate(-90)">0</text><text transform="translate(156.08,688.4) rotate(-90)">5000</text><text transform="translate(296.16,688.4) rotate(-90)">10000</text><text transform="translate(436.24,688.4) rotate(-90)">15000</text><text transform="translate(576.32,688.4) rotate(-90)">20000</text><text transform="translate(716.4,688.4) rotate(-90)">25000</text><text transform="translate(856.48,688.4) rotate(-90)">30000</text><text transform="translate(996.56,688.4) rotate(-90)">35000</text></g>
<text class="t" x="505" y="859.4">Time - 5015932955.002153 [s]</text>
<svg width="1010" height="669.5"><rect class="bg" width="1010" height="669.5"/><use href="#vg" class="g"/>
<path class="g" d="M0 36.9H1010M0 148.6H1010M0 260.4H1010M0 372.2H1010M0 483.9H1010M0 595.7H1010"/>
<svg width="1010" height="669.5" viewBox="0 -1.466 36050 1.198" preserveAspectRatio="none"><g transform="scale(1,-1)">
<path class="b" vector-effect="non-scaling-stroke" d="M0 0.93L500 0.935 1000 0.94 1500 0.942 2000 0.945 2500 0.943 3000 0.947 3500 0.945 4000 0.947 4500 0.944 5000 0.946 5500 0.943 6000 0.945 6500 0.942 7000 0.944 8000 0.94 8500 0.942 9000 0.94 9500 0.938 10000 0.942 10500 0.94 11000 0.943 11500 0.94 12000 0.942 12500 0.94 13000 0.943 13500 0.94 14500 0.942 15000 0.94 15500 0.942 16000 0.938 16500 0.94 16909 0.935"/>
<path class="b" vector-effect="non-scaling-stroke" d="M21086 0.946L21500 0.948 22000 0.95 22500 0.952 23000 0.953 23500 0.955 24000 0.958 24500 0.96 25000 0.962 25500 0.96 26000 0.963 26500 0.965 27000 0.964 27500 0.966 28000 0.965 28500 0.968 29000 0.97 30000 0.97 30500 0.972 31000 0.97 31500 0.972 32000 0.97 32500 0.972 33000 0.971 33500 0.973 34000 0.975 34500 0.972 35000 0.975 35500 0.978 36050 0.98"/>
<path class="l" vector-effect="non-scaling-stroke" d="M16909 0.935L17154 0.641 17236 0.823 17399 0.779 17562 0.689 17725 0.6 17888 0.611 18051 0.967 18214 0.6 18378 0.522 18541 0.677 18704 0.498 18867 0.809 19030 0.862 19193 0.581 19356 0.773 19519 0.695 19682 0.833 19845 0.7 19937 0.773 20030 0.55 20192 0.432 20355 0.605 20519 0.49 20760 1.466 20923 0.268 21086 0.946"/>
<path class="d" vector-effect="non-scaling-stroke" d="M17154 .641h0M17236 .823h0M17399 .779h0M17562 .689h0M17725 .6h0M17888 .611h0M18051 .967h0M18214 .6h0M18378 .522h0M18541 .677h0M18704 .498h0M18867 .809h0M19030 .862h0M19193 .581h0M19356 .773h0M19519 .695h0M19682 .833h0M19845 .7h0M19937 .773h0M20030 .55h0M20192 .432h0M20355 .605h0M20519 .49h0M20760 1.466h0M20923 .268h0"/>
</g></svg></svg>
</g>

</svg>
</body></html>
